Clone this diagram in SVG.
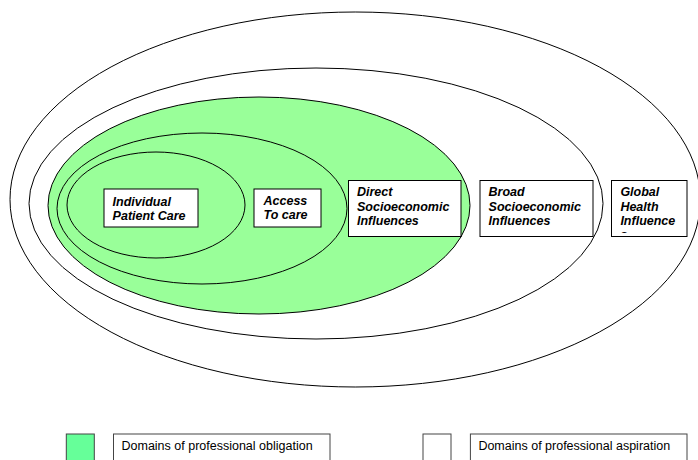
<svg xmlns="http://www.w3.org/2000/svg" width="698" height="460" viewBox="0 0 698 460">
<style>
.ell{fill:none;stroke:#000;stroke-width:1}
.box{fill:#fff;stroke:#000;stroke-width:1}
.lbl{font-family:"Liberation Sans",Arial,sans-serif;font-size:12.5px;font-weight:bold;font-style:italic;fill:#000}
.leg{fill:#fff;stroke:#444;stroke-width:1}
.legt{font-family:"Liberation Sans",Arial,sans-serif;font-size:12.5px;fill:#000}
</style>
<defs>
<clipPath id="gclip"><rect x="612" y="181" width="75" height="52"/></clipPath>
</defs>
<rect width="698" height="460" fill="#fff"/>
<g id="global-ellipse"><ellipse class="ell" cx="355.2" cy="199.5" rx="345.2" ry="187.5"/></g>
<g id="broad-ellipse"><ellipse class="ell" cx="316" cy="203.5" rx="287" ry="135.5"/></g>
<g id="direct-ellipse"><ellipse cx="259" cy="205.5" rx="211" ry="108.5" fill="#99ff99" stroke="#000" stroke-width="1"/></g>
<g id="access-ellipse"><ellipse class="ell" cx="202" cy="208.5" rx="145" ry="75.5"/></g>
<g id="individual-ellipse"><ellipse class="ell" cx="156" cy="205" rx="89" ry="53"/></g>

<g id="individual">
<rect class="box" x="104" y="189" width="94" height="38"/>
<text class="lbl" x="112.6" y="206">Individual</text>
<text class="lbl" x="112.6" y="220">Patient Care</text>
</g>
<g id="access">
<rect class="box" x="254" y="189" width="67" height="38"/>
<text class="lbl" x="263.5" y="204.7">Access</text>
<text class="lbl" x="263.5" y="219.3">To care</text>
</g>
<g id="direct">
<rect class="box" x="348.5" y="180.5" width="112.5" height="56"/>
<text class="lbl" x="357" y="196">Direct</text>
<text class="lbl" x="357" y="210.7">Socioeconomic</text>
<text class="lbl" x="357" y="225">Influences</text>
</g>
<g id="broad">
<rect class="box" x="480" y="180.5" width="113" height="56"/>
<text class="lbl" x="488.6" y="196">Broad</text>
<text class="lbl" x="488.6" y="210.7">Socioeconomic</text>
<text class="lbl" x="488.6" y="225">Influences</text>
</g>
<g id="global">
<rect class="box" x="611.5" y="180.5" width="75.5" height="56"/>
<g clip-path="url(#gclip)">
<text class="lbl" x="620.4" y="196">Global</text>
<text class="lbl" x="620.4" y="210.7">Health</text>
<text class="lbl" x="620.4" y="225">Influence</text>
<text class="lbl" x="620.4" y="238.6">s</text>
</g>
</g>

<g id="connectors"></g>

<g id="legend-obligation">
<rect x="66.3" y="434" width="28" height="30" fill="#66ff99" stroke="#444" stroke-width="1"/>
<rect class="leg" x="113.5" y="434" width="216.5" height="30"/>
<text class="legt" x="121.5" y="450">Domains of professional obligation</text>
</g>
<g id="legend-aspiration">
<rect class="leg" x="423" y="434" width="28" height="30"/>
<rect class="leg" x="470.4" y="434" width="216.6" height="30"/>
<text class="legt" x="478.4" y="450">Domains of professional aspiration</text>
</g>
</svg>
